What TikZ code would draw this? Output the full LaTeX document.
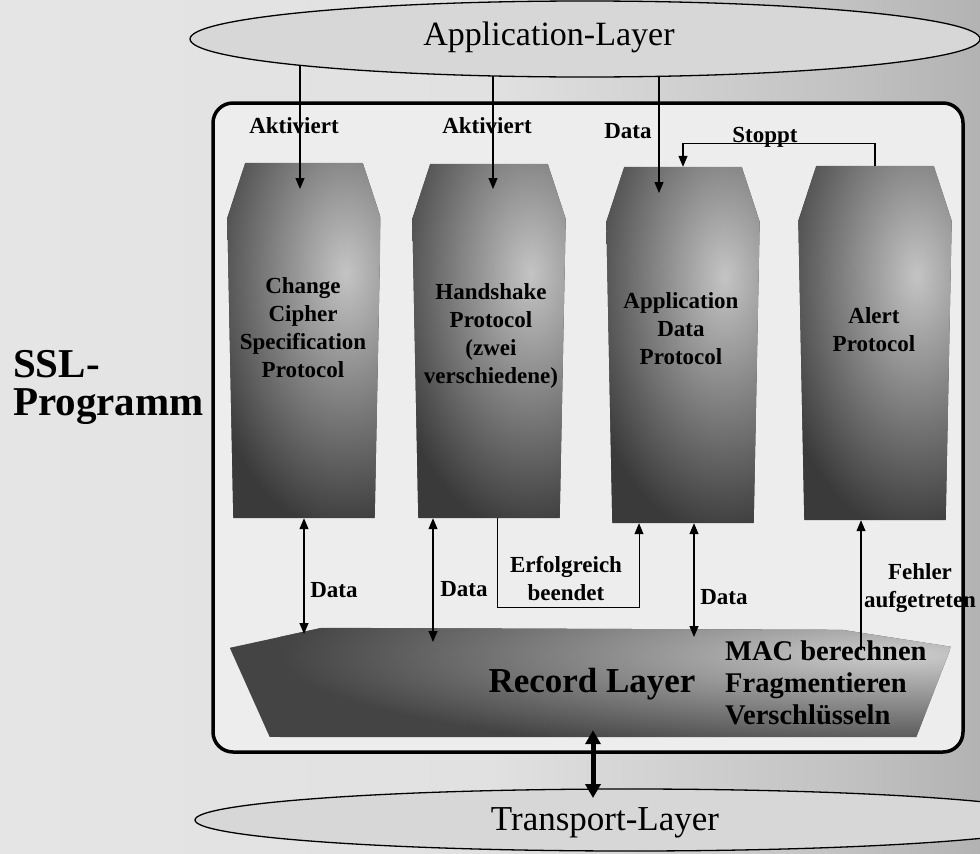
\documentclass[tikz,border=0pt]{standalone}
\usepackage{fontspec}
\setmainfont{Liberation Serif}
\usetikzlibrary{arrows.meta,shapes.geometric,calc}

\definecolor{bgA}{HTML}{E9E9E9}
\definecolor{bgB}{HTML}{E1E1E1}
\definecolor{bgC}{HTML}{C2C2C2}
\definecolor{bgD}{HTML}{9C9C9C}
\definecolor{bgE}{HTML}{6E6E6E}
\definecolor{boxFill}{HTML}{EDEDED}
\definecolor{ellFill}{HTML}{D7D7D7}
\definecolor{pilDark}{HTML}{3A3A3A}
\definecolor{pilLight}{HTML}{C4C4C4}
\definecolor{recDark}{HTML}{444444}
\definecolor{recLight}{HTML}{CDCDCD}

\pgfdeclarehorizontalshading{backdrop}{100bp}{color(0bp)=(bgA); color(50bp)=(bgB); color(68bp)=(bgC); color(85bp)=(bgD); color(100bp)=(bgE)}

\pgfdeclarelayer{front}
\pgfsetlayers{main,front}

% protocol pillar: narrow top, slanted shoulders, straight sides
\newcommand\pillarshape[1]{%
  \path[path picture={%
      \fill[pilDark] (path picture bounding box.south west) rectangle (path picture bounding box.north east);
      \shade[inner color=pilLight, outer color=pilDark]
        ([xshift=-185pt,yshift=150pt]#1.north east) rectangle ([xshift=115pt,yshift=-370pt]#1.north east);}]
    ([xshift=18pt]#1.north west) -- ([xshift=-18pt]#1.north east)
    -- ([yshift=-55pt]#1.north east) -- ([xshift=-6pt]#1.south east)
    -- ([xshift=6pt]#1.south west) -- ([yshift=-55pt]#1.north west) -- cycle;}

\begin{document}
\begin{tikzpicture}[x=1pt,y=-1pt,
  layerell/.style={ellipse, draw=black, line width=1.3pt, fill=ellFill, inner sep=0pt},
  mainbox/.style={rectangle, draw=black, line width=3.5pt, fill=boxFill, rounded corners=20pt, inner sep=0pt},
  pillar/.style={rectangle, minimum width=153pt, inner sep=0pt},
  recbox/.style={rectangle, inner sep=0pt},
  lbl/.style={font=\bfseries\fontsize{23}{28}\selectfont, inner sep=0pt},
  coltext/.style={lbl, align=center, anchor=north},
  conn/.style={line width=1.1pt, -{Triangle[width=9pt,length=11pt]}},
  dconn/.style={line width=1.1pt, {Triangle[width=9pt,length=11pt]}-{Triangle[width=9pt,length=11pt]}},
  plainline/.style={line width=1pt},
  bigarrow/.style={line width=5pt, {Triangle[width=15pt,length=14pt]}-{Triangle[width=15pt,length=14pt]}}]

\useasboundingbox (0,0) rectangle (980,854);
\shade[shading=backdrop] (0,0) rectangle (980,854);

% the two outer layers
\begin{pgfonlayer}{front}
  \node[layerell, minimum width=790pt, minimum height=76pt] (app) at (585,39) {};
  \node[font=\fontsize{34}{40}\selectfont, anchor=base, inner sep=0pt] (applbl) at (549,45) {Application-Layer};
  \node[layerell, minimum width=870pt, minimum height=62pt] (trans) at (630,820) {};
  \node[font=\fontsize{35}{40}\selectfont, anchor=base, inner sep=0pt] (translbl) at (605,830) {Transport-Layer};
\end{pgfonlayer}

% SSL program frame
\node[mainbox, minimum width=750pt, minimum height=649pt] (prog) at (588,427.5) {};
\node[font=\bfseries\fontsize{41}{38}\selectfont, align=left, anchor=north west, inner sep=0pt] (ssl) at (13,350) {SSL-\\Programm};

% protocol pillars
\node[pillar, minimum height=355pt] (ccs) at (304,340.5) {};
\node[pillar, minimum height=354pt] (hsp) at (489,341) {};
\node[pillar, minimum height=356pt] (adp) at (683,345) {};
\node[pillar, minimum height=354pt] (alp) at (875,343) {};
\pillarshape{ccs}
\pillarshape{hsp}
\pillarshape{adp}
\pillarshape{alp}
\node[coltext] (ccst) at (303,277) {Change\\Cipher\\Specification\\Protocol};
\node[coltext] (hspt) at (491,283) {Handshake\\Protocol\\(zwei\\verschiedene)};
\node[coltext] (adpt) at (681,292) {Application\\Data\\Protocol};
\node[coltext] (alpt) at (874,307) {Alert\\Protocol};

% record layer
\node[recbox, minimum width=721pt, minimum height=109pt] (rec) at (590.5,682.5) {};
\path[path picture={%
    \fill[recDark] (path picture bounding box.south west) rectangle (path picture bounding box.north east);
    \shade[inner color=recLight, outer color=recDark]
      ([xshift=-671pt,yshift=73pt]rec.north east) rectangle ([xshift=569pt,yshift=-127pt]rec.north east);}]
  ([yshift=-20pt]rec.north west) -- ([xshift=92pt]rec.north west)
  -- ([xshift=-109pt,yshift=-2pt]rec.north east) -- ([yshift=-19pt]rec.north east)
  -- ([xshift=-35pt]rec.south east) -- ([xshift=40pt]rec.south west) -- cycle;
\node[font=\bfseries\fontsize{35}{40}\selectfont, anchor=base, inner sep=0pt] (reclbl) at (592,692) {Record Layer};
\node[font=\bfseries\fontsize{28.5}{32}\selectfont, align=left, anchor=north west, inner sep=0pt] (recops) at (725,641) {MAC berechnen\\Fragmentieren\\Verschlüsseln};

% activation from the application layer
\coordinate (t1) at (300,189);
\coordinate (t2) at (493,189);
\coordinate (t3) at (659,193);
\draw[conn] (app.center -| t1) -- (t1);
\draw[conn] (app.center -| t2) -- (t2);
\draw[conn] (app.center -| t3) -- (t3);
\node[lbl, anchor=base] (akt1) at (294,133) {Aktiviert};
\node[lbl, anchor=base] (akt2) at (487,133) {Aktiviert};
\node[lbl, anchor=base] (datin) at (628,138) {Data};

% alert stops the application data protocol
\draw[conn] (alp.north) -- ++(0,-22) -| (adp.north);
\node[lbl, anchor=base] (stoppt) at (765,142) {Stoppt};

% data exchange with the record layer
\coordinate (d1) at (304,634);
\coordinate (d2) at (433,642);
\coordinate (d3) at (694,637);
\coordinate (e1) at (497,607);
\coordinate (e2) at (639,607);
\coordinate (f1) at (861,650);
\draw[dconn] (ccs.south) -- (d1);
\draw[dconn] (hsp.south -| d2) -- (d2);
\draw[dconn] (adp.south -| d3) -- (d3);
\draw[plainline, -{Triangle[width=9pt,length=11pt]}] (hsp.south -| e1) -- (e1) -- (e2) -- (adp.south -| e2);
\draw[conn] (f1) -- (alp.south -| f1);
\node[lbl, anchor=base] (dat1) at (334,597) {Data};
\node[lbl, anchor=base] (dat2) at (464,596) {Data};
\node[lbl, anchor=base] (dat3) at (724,604) {Data};
\node[lbl, align=center, anchor=north] (okmsg) at (566,556) {Erfolgreich\\beendet};
\node[lbl, align=center, anchor=north] (errmsg) at (920,563) {Fehler\\aufgetreten};

% record layer <-> transport layer
\coordinate (ta) at (593,798);
\begin{pgfonlayer}{front}
  \draw[bigarrow] ($(rec.south -| ta)+(0,-7)$) -- (ta);
\end{pgfonlayer}
\end{tikzpicture}
\end{document}
